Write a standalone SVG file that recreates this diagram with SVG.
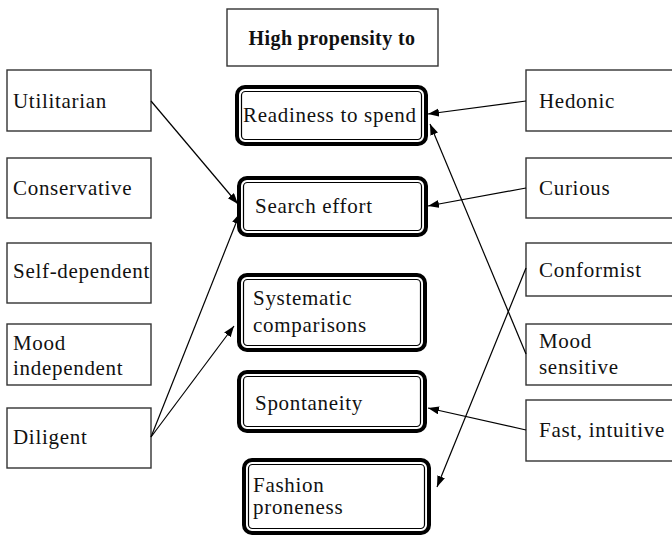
<svg xmlns="http://www.w3.org/2000/svg" width="672" height="536" viewBox="0 0 672 536">
<style>
  text { font-family: "Liberation Serif", "Times New Roman", serif; font-size: 21px; letter-spacing: 0.7px; fill: #111; }
  .hdr { font-size: 20px; font-weight: bold; letter-spacing: 0.4px; }
  .box { fill: #fff; stroke: #333; stroke-width: 1.4; }
  .outer { fill: #fff; stroke: #000; stroke-width: 4; }
  .inner { fill: none; stroke: #000; stroke-width: 1.2; }
  .conn line { stroke: #000; stroke-width: 1.2; }
</style>
<defs>
  <marker id="ah" markerUnits="userSpaceOnUse" markerWidth="12" markerHeight="10" refX="11" refY="4" orient="auto">
    <path d="M0,0 L11,4 L0,8 Z" fill="#000"/>
  </marker>
</defs>
<rect width="672" height="536" fill="#fff"/>

<g id="header">
  <rect class="box" x="227" y="9" width="211" height="57"/>
  <text class="hdr" x="332" y="45" text-anchor="middle">High propensity to</text>
</g>

<g id="utilitarian"><rect class="box" x="7" y="70" width="144" height="61"/><text x="13" y="108">Utilitarian</text></g>
<g id="conservative"><rect class="box" x="7" y="158" width="144" height="60"/><text x="13" y="195">Conservative</text></g>
<g id="self-dependent"><rect class="box" x="7" y="243" width="144" height="60"/><text x="13" y="278">Self-dependent</text></g>
<g id="mood-independent"><rect class="box" x="7" y="324" width="144" height="61"/><text x="13" y="350">Mood</text><text x="13" y="375">independent</text></g>
<g id="diligent"><rect class="box" x="7" y="408" width="144" height="60"/><text x="13" y="444">Diligent</text></g>

<g id="hedonic"><rect class="box" x="526" y="70" width="160" height="61"/><text x="539" y="108">Hedonic</text></g>
<g id="curious"><rect class="box" x="526" y="158" width="160" height="60"/><text x="539" y="195">Curious</text></g>
<g id="conformist"><rect class="box" x="526" y="243" width="160" height="53"/><text x="539" y="277">Conformist</text></g>
<g id="mood-sensitive"><rect class="box" x="526" y="324" width="160" height="61"/><text x="539" y="348">Mood</text><text x="539" y="374">sensitive</text></g>
<g id="fast-intuitive"><rect class="box" x="526" y="400" width="160" height="61"/><text x="539" y="437">Fast, intuitive</text></g>

<g id="readiness">
  <rect class="outer" x="237" y="87" width="189" height="57" rx="8"/>
  <rect class="inner" x="241.5" y="91.5" width="180" height="48" rx="4"/>
  <text x="243" y="122">Readiness to spend</text>
</g>
<g id="search-effort">
  <rect class="outer" x="239" y="178" width="187" height="57" rx="8"/>
  <rect class="inner" x="243.5" y="182.5" width="178" height="48" rx="4"/>
  <text x="255" y="213">Search effort</text>
</g>
<g id="systematic">
  <rect class="outer" x="239" y="275" width="186" height="75" rx="8"/>
  <rect class="inner" x="243.5" y="279.5" width="177" height="66" rx="4"/>
  <text x="253" y="305">Systematic</text>
  <text x="253" y="332">comparisons</text>
</g>
<g id="spontaneity">
  <rect class="outer" x="239" y="372" width="186" height="59" rx="8"/>
  <rect class="inner" x="243.5" y="376.5" width="177" height="50" rx="4"/>
  <text x="255" y="410">Spontaneity</text>
</g>
<g id="fashion">
  <rect class="outer" x="244" y="460" width="185" height="73" rx="8"/>
  <rect class="inner" x="248.5" y="464.5" width="176" height="64" rx="4"/>
  <text x="253" y="492">Fashion</text>
  <text x="253" y="514">proneness</text>
</g>

<g id="connectors" class="conn">
  <line x1="151" y1="101" x2="238" y2="204" marker-end="url(#ah)"/>
  <line x1="151" y1="437" x2="240" y2="213" marker-end="url(#ah)"/>
  <line x1="151" y1="437" x2="234" y2="326" marker-end="url(#ah)"/>
  <line x1="526" y1="101" x2="428" y2="114" marker-end="url(#ah)"/>
  <line x1="526" y1="188" x2="428" y2="206" marker-end="url(#ah)"/>
  <line x1="526" y1="354" x2="430" y2="124" marker-end="url(#ah)"/>
  <line x1="526" y1="268" x2="437" y2="487" marker-end="url(#ah)"/>
  <line x1="526" y1="430" x2="428" y2="408" marker-end="url(#ah)"/>
</g>
</svg>
